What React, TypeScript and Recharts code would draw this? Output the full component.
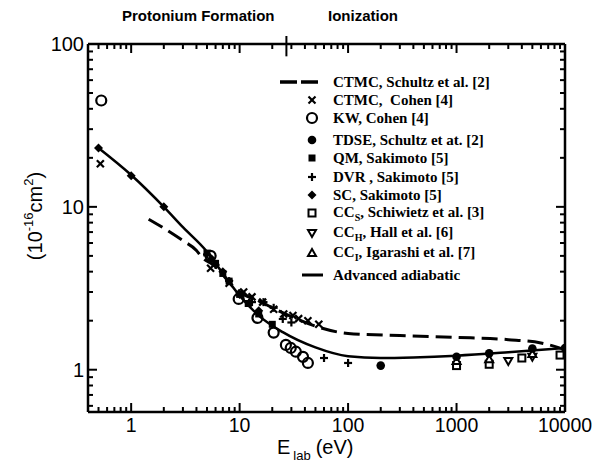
import { ComposedChart, Line, Scatter, XAxis, YAxis, Legend, ReferenceLine } from 'recharts';

const SANS = '"Liberation Sans", Arial, Helvetica, sans-serif';
const SERIF = '"Liberation Serif", "Times New Roman", serif';

// energy E_lab (eV) / cross section (1e-16 cm^2)
const ctmcSchultzE = [1.45, 2, 3, 4, 4.5, 6, 8, 10, 15, 20, 30, 50, 100, 300, 1000, 3000, 6000, 10000];
const ctmcSchultzS = [8.4, 7.4, 6.2, 5.4, 4.9, 4.3, 3.45, 3.0, 2.65, 2.4, 2.12, 1.85, 1.67, 1.62, 1.58, 1.53, 1.46, 1.33];

const adiabaticE = [0.5, 1, 2, 3, 5, 7, 10, 15, 25, 50, 100, 200, 400, 1000, 3000, 10000];
const adiabaticS = [23, 15.7, 10, 7.5, 5.3, 3.9, 2.85, 2.15, 1.7, 1.37, 1.21, 1.18, 1.19, 1.22, 1.28, 1.36];

const ctmcCohenE = [0.52, 5.4, 8, 10.9, 13, 16.3, 20.6, 25.5, 31, 35, 42.6, 53.7];
const ctmcCohenS = [18.4, 4.2, 3.4, 3.0, 2.8, 2.6, 2.35, 2.2, 2.15, 2.06, 2.0, 1.9];

const kwCohenE = [0.53, 5.4, 9.8, 14.6, 20.6, 26.7, 29.6, 33, 38.4, 42.6];
const kwCohenS = [45, 5.0, 2.72, 2.08, 1.69, 1.42, 1.36, 1.29, 1.2, 1.1];

const tdseE = [200, 1000, 2000, 5000, 10000];
const tdseS = [1.06, 1.2, 1.26, 1.35, 1.36];

const qmE = [5, 6, 7, 8, 10, 12, 15, 20];
const qmS = [5.2, 4.5, 3.9, 3.5, 2.9, 2.55, 2.2, 1.9];

const dvrE = [5, 6, 8, 10, 13, 16.6, 20.6, 25, 30, 60, 100];
const dvrS = [5.1, 4.4, 3.5, 2.95, 2.6, 2.6, 2.4, 2.05, 1.95, 1.18, 1.1];

const scE = [0.5, 1, 2, 5.5, 7, 10, 15];
const scS = [23, 15.5, 10, 4.8, 4.0, 2.9, 2.3];

const ccSE = [1000, 2000, 4000, 9000];
const ccSS = [1.06, 1.08, 1.18, 1.23];

const ccHE = [3000, 5000];
const ccHS = [1.13, 1.2];

const ccIE = [1000, 2000, 5000];
const ccIS = [1.13, 1.16, 1.25];

// axes
const xDomain = [0.4, 10000];
const yDomain = [0.55, 100];
const xMajor = [1, 10, 100, 1000, 10000];
const yMajor = [1, 10, 100];
const minorSteps = [2, 3, 4, 5, 6, 7, 8, 9];
const xLowMinor = [0.5, 0.6, 0.7, 0.8, 0.9];
const yLowMinor = [0.6, 0.7, 0.8, 0.9];
const regionBoundary = 27;

const xTicks = [...xLowMinor, ...xMajor, ...xMajor.slice(0, -1).flatMap((d) => minorSteps.map((m) => d * m))].sort((a, b) => a - b);
const yTicks = [...yLowMinor, ...yMajor, ...yMajor.slice(0, -1).flatMap((d) => minorSteps.map((m) => d * m))].sort((a, b) => a - b);

const pts = (e: number[], s: number[]) => e.map((x, i) => ({ x, y: s[i] }));

type Kind = 'dash' | 'x' | 'ocircle' | 'dot' | 'fsquare' | 'plus' | 'diamond' | 'osquare' | 'tdown' | 'tup' | 'solid';

const legendItems: { kind: Kind; pre: string; sub?: string; post?: string }[] = [
  { kind: 'dash', pre: 'CTMC, Schultz et al. [2]' },
  { kind: 'x', pre: 'CTMC,  Cohen [4]' },
  { kind: 'ocircle', pre: 'KW, Cohen [4]' },
  { kind: 'dot', pre: 'TDSE, Schultz et at. [2]' },
  { kind: 'fsquare', pre: 'QM, Sakimoto [5]' },
  { kind: 'plus', pre: 'DVR , Sakimoto [5]' },
  { kind: 'diamond', pre: 'SC, Sakimoto [5]' },
  { kind: 'osquare', pre: 'CC', sub: 'S', post: ', Schiwietz et al. [3]' },
  { kind: 'tdown', pre: 'CC', sub: 'H', post: ', Hall et al. [6]' },
  { kind: 'tup', pre: 'CC', sub: 'I', post: ', Igarashi et al. [7]' },
  { kind: 'solid', pre: 'Advanced adiabatic' },
];
const legendRowY = [74, 92, 110, 132, 150, 169, 187, 205, 225, 245, 267];

function Marker({ kind, cx, cy }: { kind: Kind; cx: number; cy: number }) {
  const sw = 2.2;
  switch (kind) {
    case 'x':
      return (
        <g stroke="#000" strokeWidth={sw}>
          <line x1={cx - 3.5} y1={cy - 3.5} x2={cx + 3.5} y2={cy + 3.5} />
          <line x1={cx - 3.5} y1={cy + 3.5} x2={cx + 3.5} y2={cy - 3.5} />
        </g>
      );
    case 'ocircle':
      return <circle cx={cx} cy={cy} r={5} fill="none" stroke="#000" strokeWidth={sw} />;
    case 'dot':
      return <circle cx={cx} cy={cy} r={4.3} fill="#000" />;
    case 'fsquare':
      return <rect x={cx - 3.5} y={cy - 3.5} width={7} height={7} fill="#000" />;
    case 'plus':
      return (
        <g stroke="#000" strokeWidth={sw}>
          <line x1={cx - 4} y1={cy} x2={cx + 4} y2={cy} />
          <line x1={cx} y1={cy - 4} x2={cx} y2={cy + 4} />
        </g>
      );
    case 'diamond':
      return <polygon points={`${cx},${cy - 4.5} ${cx + 4.5},${cy} ${cx},${cy + 4.5} ${cx - 4.5},${cy}`} fill="#000" />;
    case 'osquare':
      return <rect x={cx - 3.5} y={cy - 3.5} width={7} height={7} fill="#fff" stroke="#000" strokeWidth={2} />;
    case 'tdown':
      return <polygon points={`${cx - 4},${cy - 3} ${cx + 4},${cy - 3} ${cx},${cy + 4}`} fill="#fff" stroke="#000" strokeWidth={2} />;
    case 'tup':
      return <polygon points={`${cx - 4},${cy + 3} ${cx + 4},${cy + 3} ${cx},${cy - 4}`} fill="#fff" stroke="#000" strokeWidth={2} />;
    default:
      return null;
  }
}

const shapeOf = (kind: Kind) => (p: any) => <Marker kind={kind} cx={p.cx} cy={p.cy} />;

const isMajor = (v: number) => Math.abs(Math.log10(v) - Math.round(Math.log10(v))) < 1e-6;

function makeTick(side: 'bottom' | 'top' | 'left' | 'right') {
  return (p: any) => {
    const v = p.payload.value;
    const major = isMajor(v);
    const len = major ? 9 : 5;
    const { x, y } = p;
    if (side === 'bottom')
      return (
        <g>
          <line x1={x} y1={y} x2={x} y2={y - len} stroke="#000" strokeWidth={2} />
          {major && (
            <text x={x} y={y + 20} textAnchor="middle" fontFamily={SANS} fontSize={19.5} fill="#000">
              {v}
            </text>
          )}
        </g>
      );
    if (side === 'top') return <line x1={x} y1={y} x2={x} y2={y + len} stroke="#000" strokeWidth={2} />;
    if (side === 'left')
      return (
        <g>
          <line x1={x} y1={y} x2={x + len} y2={y} stroke="#000" strokeWidth={2} />
          {major && (
            <text x={x - 4} y={y + 7} textAnchor="end" fontFamily={SANS} fontSize={20} fill="#000">
              {v}
            </text>
          )}
        </g>
      );
    return <line x1={x} y1={y} x2={x - len} y2={y} stroke="#000" strokeWidth={2} />;
  };
}

function XLabel() {
  return (
    <text x={269} y={446} fontFamily={SANS} fontSize={20} fill="#000">
      E
      <tspan fontSize={13} dx={3} dy={6}>lab</tspan>
      <tspan fontSize={20} dx={5} dy={-6}>(eV)</tspan>
    </text>
  );
}

function YLabel() {
  const cx = 34;
  const cy = 208;
  return (
    <text x={cx} y={cy} transform={`rotate(-90 ${cx} ${cy})`} textAnchor="middle" fontFamily={SANS} fontSize={20} fill="#000">
      (10
      <tspan fontSize={13} dy={-9}>-16</tspan>
      <tspan dy={9}>cm</tspan>
      <tspan fontSize={13} dy={-9}>2</tspan>
      <tspan dy={9}>)</tspan>
    </text>
  );
}

function LegendBox() {
  return (
    <div style={{ position: 'relative', width: 300, height: 280, fontFamily: SERIF, fontWeight: 'bold', fontSize: 15, color: '#000' }}>
      {legendItems.map((it, i) => (
        <div key={i} style={{ position: 'absolute', left: 0, top: legendRowY[i] - 10, height: 20, display: 'flex', alignItems: 'center' }}>
          <svg width={48} height={20} style={{ display: 'block' }}>
            {it.kind === 'dash' && <line x1={2} y1={10} x2={42} y2={10} stroke="#000" strokeWidth={3.5} strokeDasharray="17 4" />}
            {it.kind === 'solid' && <line x1={24} y1={10} x2={45} y2={10} stroke="#000" strokeWidth={3} />}
            {it.kind !== 'dash' && it.kind !== 'solid' && <Marker kind={it.kind} cx={34} cy={10} />}
          </svg>
          <span style={{ marginLeft: 7, whiteSpace: 'pre' }}>
            {it.pre}
            {it.sub && <sub style={{ fontSize: 10 }}>{it.sub}</sub>}
            {it.post}
          </span>
        </div>
      ))}
    </div>
  );
}

export default function App() {
  return (
    <div style={{ position: 'relative', width: 600, height: 458 }}>
      <div style={{ position: 'absolute', left: 114, top: 0, fontFamily: SANS, fontWeight: 'bold', fontSize: 15, lineHeight: '16px' }}>
        Protonium Formation
      </div>
      <div style={{ position: 'absolute', left: 320, top: 0, fontFamily: SANS, fontWeight: 'bold', fontSize: 15, lineHeight: '16px' }}>
        Ionization
      </div>
      <ComposedChart width={600} height={458} margin={{ top: 0, right: 0, bottom: 0, left: 0 }}>
        <XAxis
          xAxisId="b"
          dataKey="x"
          type="number"
          scale="log"
          domain={xDomain}
          allowDataOverflow
          ticks={xTicks}
          interval={0}
          tickSize={0}
          tickMargin={0}
          tickLine={false}
          tick={makeTick('bottom')}
          axisLine={{ stroke: '#000', strokeWidth: 2.5 }}
          height={54}
          label={<XLabel />}
        />
        <XAxis
          xAxisId="t"
          orientation="top"
          dataKey="x"
          type="number"
          scale="log"
          domain={xDomain}
          allowDataOverflow
          ticks={xTicks}
          interval={0}
          tickSize={0}
          tickMargin={0}
          tickLine={false}
          tick={makeTick('top')}
          axisLine={{ stroke: '#000', strokeWidth: 2.5 }}
          height={36}
        />
        <YAxis
          yAxisId="l"
          dataKey="y"
          type="number"
          scale="log"
          domain={yDomain}
          allowDataOverflow
          ticks={yTicks}
          interval={0}
          tickSize={0}
          tickMargin={0}
          tickLine={false}
          tick={makeTick('left')}
          axisLine={{ stroke: '#000', strokeWidth: 2.5 }}
          width={80}
          label={<YLabel />}
        />
        <YAxis
          yAxisId="r"
          orientation="right"
          dataKey="y"
          type="number"
          scale="log"
          domain={yDomain}
          allowDataOverflow
          ticks={yTicks}
          interval={0}
          tickSize={0}
          tickMargin={0}
          tickLine={false}
          tick={makeTick('right')}
          axisLine={{ stroke: '#000', strokeWidth: 2.5 }}
          width={43}
        />
        <ReferenceLine
          xAxisId="b"
          yAxisId="l"
          segment={[{ x: regionBoundary, y: 112 }, { x: regionBoundary, y: 84 }]}
          stroke="#000"
          strokeWidth={2}
          ifOverflow="visible"
        />
        <Legend
          layout="vertical"
          align="center"
          verticalAlign="middle"
          content={() => <LegendBox />}
          wrapperStyle={{ left: 270, top: 0, width: 300, height: 280 }}
        />
        <Line xAxisId="b" yAxisId="l" data={pts(ctmcSchultzE, ctmcSchultzS)} dataKey="y" type="monotone" stroke="#000" strokeWidth={3} strokeDasharray="16 7" dot={false} isAnimationActive={false} legendType="none" />
        <Line xAxisId="b" yAxisId="l" data={pts(adiabaticE, adiabaticS)} dataKey="y" type="monotone" stroke="#000" strokeWidth={2.5} dot={false} isAnimationActive={false} legendType="none" />
        <Scatter xAxisId="b" yAxisId="l" data={pts(ctmcCohenE, ctmcCohenS)} dataKey="y" shape={shapeOf('x')} isAnimationActive={false} />
        <Scatter xAxisId="b" yAxisId="l" data={pts(kwCohenE, kwCohenS)} dataKey="y" shape={shapeOf('ocircle')} isAnimationActive={false} />
        <Scatter xAxisId="b" yAxisId="l" data={pts(qmE, qmS)} dataKey="y" shape={shapeOf('fsquare')} isAnimationActive={false} />
        <Scatter xAxisId="b" yAxisId="l" data={pts(dvrE, dvrS)} dataKey="y" shape={shapeOf('plus')} isAnimationActive={false} />
        <Scatter xAxisId="b" yAxisId="l" data={pts(scE, scS)} dataKey="y" shape={shapeOf('diamond')} isAnimationActive={false} />
        <Scatter xAxisId="b" yAxisId="l" data={pts(ccSE, ccSS)} dataKey="y" shape={shapeOf('osquare')} isAnimationActive={false} />
        <Scatter xAxisId="b" yAxisId="l" data={pts(ccHE, ccHS)} dataKey="y" shape={shapeOf('tdown')} isAnimationActive={false} />
        <Scatter xAxisId="b" yAxisId="l" data={pts(ccIE, ccIS)} dataKey="y" shape={shapeOf('tup')} isAnimationActive={false} />
        <Scatter xAxisId="b" yAxisId="l" data={pts(tdseE, tdseS)} dataKey="y" shape={shapeOf('dot')} isAnimationActive={false} />
      </ComposedChart>
    </div>
  );
}
